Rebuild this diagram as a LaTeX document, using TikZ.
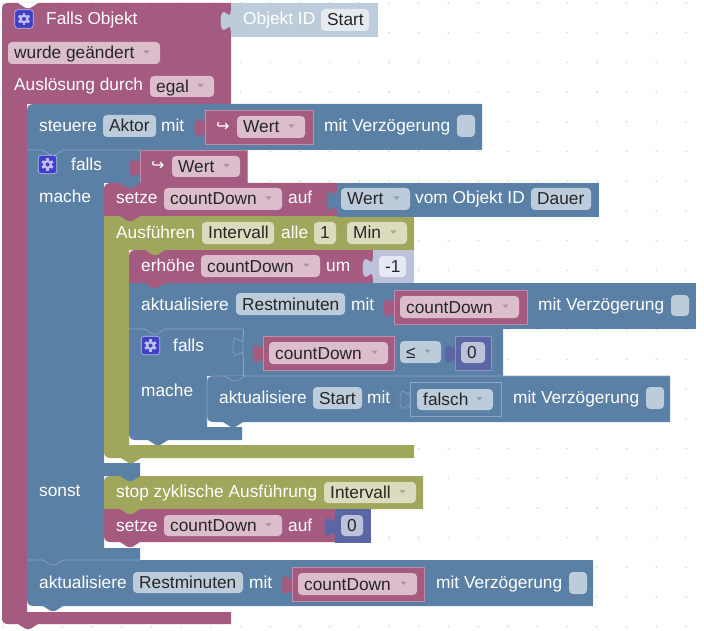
\documentclass[tikz,border=0pt]{standalone}
\usepackage{fontspec}
\setmainfont{Liberation Sans}
\newfontfamily\dvfont{DejaVu Sans}
\definecolor{mv}{HTML}{A55B80}
\definecolor{bl}{HTML}{5B80A5}
\definecolor{gn}{HTML}{A0A65B}
\definecolor{pu}{HTML}{5B67A5}
\definecolor{mvF}{HTML}{DBBDCC}
\definecolor{blF}{HTML}{BDCCDB}
\definecolor{gnF}{HTML}{DBDBBD}
\definecolor{puF}{HTML}{BDC2DB}
\definecolor{ltF}{HTML}{E6EBF1}
\definecolor{lpF}{HTML}{E6E8F3}
\definecolor{mvL}{HTML}{C08CA6}
\definecolor{blL}{HTML}{8CA6C0}
\definecolor{puL}{HTML}{8C95C0}
\definecolor{icon}{HTML}{3F3FC8}
\definecolor{gearc}{HTML}{BDBDF2}
\definecolor{dotc}{HTML}{DADADA}
\tikzset{
  x=1pt,y=-1pt,
  blocktext/.style={anchor=base west,inner sep=0pt,text=white,font=\fontsize{17.3}{20}\selectfont},
  fieldtext/.style={anchor=base west,inner sep=0pt,text=black!85,font=\fontsize{17.3}{20}\selectfont},
  highlight/.style={line width=0.6pt},
}
% label
\newcommand{\lab}[4]{\node[blocktext] (#1) at (#2,#3) {#4};}
% field: name x1 y1 x2 y2 colour text
\newcommand{\fld}[7]{\fill[#6,rounded corners=4pt] (#2,#3) rectangle (#4,#5);
  \node[fieldtext] (#1) at (#2+6,{(#3+#5)/2+6}) {#7};}
% field with dropdown arrow
\newcommand{\fldd}[7]{\fld{#1}{#2}{#3}{#4}{#5}{#6}{#7}
  \fill[#6!78!black] (#4-16.5,{(#3+#5)/2-2.5}) -- (#4-10.5,{(#3+#5)/2-2.5}) -- (#4-13.5,{(#3+#5)/2+1}) -- cycle;}
% puzzle tab: x top fill stroke
\newcommand{\pz}[4]{\path[fill=#3,draw=#4,highlight] (#1,#2+8) .. controls (#1,#2+21) and (#1-10,#2-2) .. (#1-10,#2+18)
   .. controls (#1-10,#2+38) and (#1,#2+14.6) .. (#1,#2+28) -- cycle;}
% value block: x1 y1 x2 y2 fill stroke
\newcommand{\val}[6]{\pz{#1}{#2}{#5}{#5}\path[fill=#5,draw=#6,highlight] (#1,#2) rectangle (#3,#4);}
% notch tab: x y fill
\newcommand{\nt}[3]{\fill[#3] (#1,#2) -- (#1+7,#2+4.5) .. controls (#1+9,#2+5.5) and (#1+11,#2+5.5) .. (#1+13,#2+4.5) -- (#1+20,#2) -- cycle;}
% blocks
\newcommand{\blkT}[5]{\fill[#5] (#1,#4) -- (#1,#2+7) .. controls (#1,#2+2) and (#1+2,#2) .. (#1+7,#2) -- (#3,#2) -- (#3,#4) -- cycle;}
\newcommand{\blkB}[5]{\fill[#5] (#1,#2) -- (#3,#2) -- (#3,#4) -- (#1+7,#4) .. controls (#1+2,#4) and (#1,#4-2) .. (#1,#4-7) -- cycle;}
\newcommand{\blkTB}[5]{\fill[#5] (#1,#4-7) -- (#1,#2+7) .. controls (#1,#2+2) and (#1+2,#2) .. (#1+7,#2) -- (#3,#2) -- (#3,#4) -- (#1+7,#4) .. controls (#1+2,#4) and (#1,#4-2) .. (#1,#4-7) -- cycle;}
% gear icon
\newcommand{\gearicon}[3]{\node[fill=icon,draw=gearc,line width=0.6pt,rounded corners=3pt,minimum size=18.5pt,inner sep=0pt] (#1) at (#2,#3) {};
  \foreach \a in {30,90,...,330}{\draw[gearc,line width=2.8pt] (#2,#3) ++(\a:3pt) -- ++(\a:3.2pt);}
  \fill[gearc] (#2,#3) circle (4.6pt);
  \fill[icon] (#2,#3) circle (2pt);}
\newcommand{\hk}{{\dvfont\fontsize{16}{18}\selectfont ↪}}
\begin{document}
\begin{tikzpicture}
\useasboundingbox (0,0) rectangle (704,631);
\fill[white] (0,0) rectangle (704,631);
\foreach \i in {0,...,23}{\foreach \j in {0,...,21}{\fill[dotc] (2.9+29.7*\i,3+29.7*\j) circle (1pt);}}

% root block
\fill[mv] (2,9) .. controls (2,5) and (4,3) .. (8,3) -- (231,3) -- (231,104) -- (27,104) -- (27,612) -- (231,612) -- (231,624)
  -- (8,624) .. controls (4,624) and (2,622) .. (2,618) -- cycle;
\nt{18}{3}{white}
\nt{18}{624}{mv}
\val{231}{3}{377}{36}{blF}{blF}
\gearicon{gA}{24}{19}
\lab{tFalls}{46}{25}{Falls Objekt}
\lab{tObj}{243}{25}{Objekt ID}
\fld{fStart}{321}{9}{369}{31}{ltF}{Start}
\fldd{fWurde}{8}{42}{160}{64}{mvF}{wurde geändert}
\lab{tAusl}{14}{91}{Auslösung durch}
\fldd{fEgal}{150}{76}{214}{97}{mvF}{egal}

% falls (outer) block
\fill[bl] (27,150) -- (140,150) -- (140,183) -- (104,183) -- (104,463) -- (140,463) -- (140,476) -- (104,476) -- (104,548) -- (140,548) -- (140,560) -- (27,560) -- cycle;

% steuere block
\blkT{27}{104}{482}{150}{bl}
\draw[blL,highlight] (27,150) -- (43,150) -- (50,154.5) .. controls (52,155.5) and (54,155.5) .. (56,154.5) -- (63,150) -- (140,150);
\lab{tSteuere}{39}{132}{steuere}
\fld{fAktor}{103}{115}{156}{137}{blF}{Aktor}
\lab{tMit1}{161}{132}{mit}
\val{205}{110}{313}{144}{mv}{mvL}
\node[blocktext] (hkA) at (216,132) {\hk};
\fldd{fWertA}{237}{116}{305}{138}{mvF}{Wert}
\lab{tVz1}{324}{132}{mit Verzögerung}
\fld{fEmpty1}{457}{115}{475}{137}{blF}{}

% falls header
\val{140}{150}{247}{183}{mv}{mvL}
\gearicon{gB}{47.5}{164.5}
\lab{tF1}{71}{171}{falls}
\node[blocktext] (hkB) at (151,171) {\hk};
\fldd{fWertB}{172}{156}{240}{177}{mvF}{Wert}
\lab{tMache1}{39}{203}{mache}
\lab{tSonst}{39}{496}{sonst}

% Ausführen block
\fill[gn] (104,216) -- (414,216) -- (414,250) -- (129,250) -- (129,445) -- (414,445) -- (414,458) -- (111,458) .. controls (106,458) and (104,456) .. (104,451) -- cycle;
\nt{121}{458}{gn}
\lab{tAusf}{116}{238}{Ausführen}
\fld{fInt1}{202}{222}{274}{244}{gnF}{Intervall}
\lab{tAlle}{281}{238}{alle}
\fld{fEins}{314}{222}{336}{244}{gnF}{1}
\fldd{fMin}{347}{222}{407}{244}{gnF}{Min}

% setze 1
\blkT{104}{183}{337}{216}{mv}
\nt{120}{183}{bl}
\nt{120}{216}{mv}
\lab{tSetze1}{116}{204}{setze}
\fldd{fCd1}{164}{188}{282}{210}{mvF}{countDown}
\lab{tAuf1}{288}{204}{auf}
\val{337}{183}{598}{216}{bl}{bl}
\fldd{fWertC}{341}{188}{410}{210}{blF}{Wert}
\lab{tVom}{415}{204}{vom Objekt ID}
\fld{fDauer}{531}{188}{591}{210}{blF}{Dauer}

% erhöhe
\blkT{129}{250}{373}{283}{mv}
\nt{145}{250}{gn}
\val{373}{250}{413}{283}{puF}{puF}
\lab{tErh}{141}{271}{erhöhe}
\fldd{fCd2}{201}{255}{320}{277}{mvF}{countDown}
\lab{tUm}{326}{271}{um}
\fld{fM1}{379}{256}{406}{277}{lpF}{-1}

% inner falls block
\fill[bl] (129,329) -- (503,329) -- (503,376) -- (207,376) -- (207,427) -- (242,427) -- (242,440) -- (136,440) .. controls (131,440) and (129,438) .. (129,433) -- cycle;
\nt{148}{440}{bl}

% aktualisiere Restminuten
\fill[bl] (129,283) rectangle (696,329);
\nt{145}{283}{mv}
\lab{tAkt1}{141}{310}{aktualisiere}
\fld{fRest1}{236}{293}{345}{315}{blF}{Restminuten}
\lab{tMit2}{351}{310}{mit}
\val{394}{290}{527}{324}{mv}{mvL}
\fldd{fCd3}{400}{296}{519}{318}{mvF}{countDown}
\lab{tVz2}{538}{310}{mit Verzögerung}
\fld{fEmpty2}{671}{295}{689}{316}{blF}{}

% inner falls contents
\draw[blL,highlight] (129,329) -- (145,329) -- (152,333.5) .. controls (154,334.5) and (156,334.5) .. (158,333.5) -- (165,329) -- (243,329);
\pz{243}{329}{bl}{blL}
\draw[blL,highlight] (243,329) -- (243,337) (243,357) -- (243,376);
\gearicon{gC}{150.5}{345.5}
\lab{tF2}{173}{351}{falls}
\lab{tMache2}{141}{396}{mache}
\val{263}{336}{394}{370}{mv}{mvL}
\fldd{fCd4}{269}{342}{388}{364}{mvF}{countDown}
\fldd{fLe}{400}{341}{441}{363}{blF}{≤}
\val{455}{336}{491}{370}{pu}{puL}
\fld{fNull1}{461}{342}{485}{363}{puF}{0}

% aktualisiere Start
\blkTB{207}{376}{670}{422}{bl}
\draw[blL,highlight] (207,422) -- (207,383) .. controls (207,378) and (209,376) .. (214,376) -- (670,376);
\nt{225}{376}{bl}
\draw[blL,highlight] (225,376) -- (232,380.5) .. controls (234,381.5) and (236,381.5) .. (238,380.5) -- (245,376);
\nt{223}{422}{bl}
\lab{tAkt2}{219}{403}{aktualisiere}
\fld{fStart2}{313}{387}{362}{409}{blF}{Start}
\lab{tMit3}{367}{403}{mit}
\pz{410}{382}{bl}{blL}
\path[fill=bl,draw=blL,highlight] (410,382) rectangle (501,416);
\fldd{fFalsch}{417}{389}{493}{410}{blF}{falsch}
\lab{tVz3}{513}{403}{mit Verzögerung}
\fld{fEmpty3}{646}{387}{664}{409}{blF}{}

% stop block
\blkT{104}{476}{423}{509}{gn}
\nt{120}{476}{bl}
\lab{tStop}{116}{497}{stop zyklische Ausführung}
\fldd{fInt2}{324}{482}{416}{503}{gnF}{Intervall}

% setze 2
\blkB{104}{509}{335}{542}{mv}
\nt{120}{509}{gn}
\nt{120}{542}{mv}
\lab{tSetze2}{116}{531}{setze}
\fldd{fCd5}{164}{515}{282}{536}{mvF}{countDown}
\lab{tAuf2}{288}{531}{auf}
\val{335}{509}{370}{542}{pu}{pu}
\fld{fNull2}{341}{515}{363}{536}{puF}{0}

% last aktualisiere
\blkB{27}{560}{593}{606}{bl}
\draw[blL,highlight] (27,560) -- (43,560) -- (50,564.5) .. controls (52,565.5) and (54,565.5) .. (56,564.5) -- (63,560) -- (140,560);
\nt{43}{606}{bl}
\lab{tAkt3}{39}{588}{aktualisiere}
\fld{fRest2}{133}{572}{243}{593}{blF}{Restminuten}
\lab{tMit4}{249}{588}{mit}
\val{292}{567}{424}{601}{mv}{mvL}
\fldd{fCd6}{298}{573}{417}{595}{mvF}{countDown}
\lab{tVz4}{436}{588}{mit Verzögerung}
\fld{fEmpty4}{569}{572}{587}{594}{blF}{}
\end{tikzpicture}
\end{document}
